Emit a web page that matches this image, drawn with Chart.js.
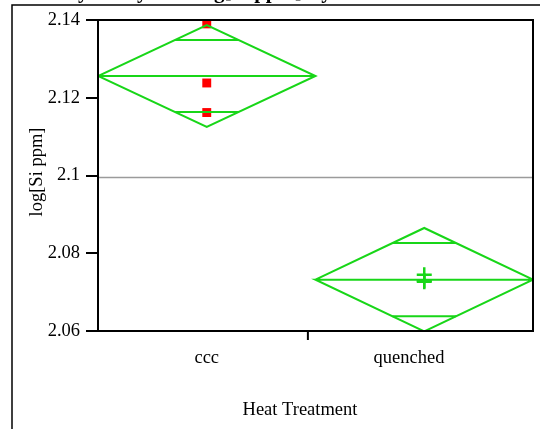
<!DOCTYPE html>
<html>
<head>
<meta charset="utf-8">
<script src="https://cdn.jsdelivr.net/npm/chart.js@4/dist/chart.umd.min.js"></script>
<style>
  html, body { margin: 0; padding: 0; background: #fff; }
</style>
</head>
<body>
<canvas id="chart" width="540" height="429"></canvas>
<script>
'use strict';
// groups and summary values
var groups = ['ccc', 'quenched'];
var groupCenter = [0.5, 1.5];
var groupLabelAt = [0.5, 1.43];
var groupMean = [2.1256, 2.0732];
var groupCI = [0.0131, 0.0133];
var grandMean = 2.0995;
// raw observations
var cccValues = [2.1390, 2.1238, 2.1162];
var quenchedValues = [2.0745, 2.0729, 2.0727];
var yTicks = [2.06, 2.08, 2.1, 2.12, 2.14];

var green = 'rgb(24, 214, 24)';
var serif = '"Liberation Serif", "Times New Roman", serif';

function line(points, color, width){
  return {
    type: 'line',
    data: points,
    borderColor: color,
    borderWidth: width,
    pointRadius: 0,
    fill: false,
    tension: 0
  };
}

var datasets = [];
// grand mean
datasets.push(line([{x: 0, y: grandMean}, {x: 2, y: grandMean}], '#9b9b9b', 1.5));

// means diamonds with overlap marks
for (var i = 0; i < groups.length; i++){
  var c = groupCenter[i], m = groupMean[i], ci = groupCI[i];
  var ov = ci * Math.SQRT1_2;
  var half = 0.5 * (1 - Math.SQRT1_2);
  datasets.push(line([
    {x: c - 0.5, y: m}, {x: c, y: m + ci}, {x: c + 0.5, y: m},
    {x: c, y: m - ci}, {x: c - 0.5, y: m}, {x: c + 0.5, y: m}
  ], green, 2));
  datasets.push(line([{x: c - half, y: m + ov}, {x: c + half, y: m + ov}], green, 2));
  datasets.push(line([{x: c - half, y: m - ov}, {x: c + half, y: m - ov}], green, 2));
}

datasets.push({
  type: 'scatter',
  data: cccValues.map(function(v){ return {x: groupCenter[0], y: v}; }),
  pointStyle: 'rect',
  pointRadius: 6.3,
  backgroundColor: 'rgb(255, 0, 0)',
  borderColor: 'rgb(255, 0, 0)',
  borderWidth: 0
});
datasets.push({
  type: 'scatter',
  data: quenchedValues.map(function(v){ return {x: groupCenter[1], y: v}; }),
  pointStyle: 'cross',
  pointRadius: 7.5,
  borderColor: green,
  borderWidth: 2.5
});

// frame, title, axis titles and the group separator tick
var decorations = {
  id: 'decorations',
  afterDatasetsDraw: function(chart){
    var ctx = chart.ctx, a = chart.chartArea;
    var xs = chart.scales.x;
    ctx.save();
    ctx.strokeStyle = '#000';
    ctx.lineWidth = 2;
    ctx.strokeRect(a.left, a.top, a.right - a.left, a.bottom - a.top);

    var sep = xs.getPixelForValue((groupLabelAt[0] + groupLabelAt[1]) / 2);
    ctx.beginPath();
    ctx.moveTo(sep, a.bottom);
    ctx.lineTo(sep, a.bottom + 9);
    ctx.stroke();

    ctx.lineWidth = 1.5;
    ctx.beginPath();
    ctx.moveTo(540, 5);
    ctx.lineTo(12, 5);
    ctx.lineTo(12, 429);
    ctx.stroke();

    ctx.fillStyle = '#000';
    ctx.textBaseline = 'alphabetic';
    ctx.textAlign = 'left';
    ctx.font = 'bold 21px ' + serif;
    ctx.fillText('Oneway Analysis of log[Si ppm] By Heat Treatment', 15, -2);

    ctx.font = '18.5px ' + serif;
    ctx.textAlign = 'center';
    ctx.textBaseline = 'middle';
    ctx.fillText('Heat Treatment', 300, 410);

    ctx.translate(37, 172);
    ctx.rotate(-Math.PI / 2);
    ctx.fillText('log[Si ppm]', 0, 0);
    ctx.restore();
  }
};

new Chart(document.getElementById('chart').getContext('2d'), {
  type: 'scatter',
  data: { datasets: datasets },
  options: {
    responsive: false,
    animation: false,
    devicePixelRatio: 1,
    layout: { autoPadding: false, padding: { top: 20, right: 7, left: 0, bottom: 0 } },
    plugins: { legend: { display: false }, tooltip: { enabled: false } },
    scales: {
      x: {
        type: 'linear',
        min: 0,
        max: 2,
        afterFit: function(scale){
          scale.height = 98;
          scale.paddingLeft = 0;
          scale.paddingRight = 0;
        },
        afterBuildTicks: function(scale){
          scale.ticks = groupLabelAt.map(function(v){ return {value: v}; });
        },
        ticks: {
          padding: 16,
          color: '#000',
          font: { family: serif, size: 18.5 },
          callback: function(v, idx){ return groups[idx]; }
        },
        grid: { display: false, drawTicks: false },
        border: { display: false }
      },
      y: {
        min: 2.06,
        max: 2.14,
        afterFit: function(scale){ scale.width = 98; },
        afterBuildTicks: function(scale){
          scale.ticks = yTicks.map(function(v){ return {value: v}; });
        },
        ticks: {
          padding: 6,
          color: '#000',
          font: { family: serif, size: 18.5 },
          callback: function(v){ return String(Math.round(v * 100) / 100); }
        },
        grid: { drawOnChartArea: false, drawTicks: true, tickLength: 12, color: '#000', lineWidth: 2 },
        border: { display: false }
      }
    }
  },
  plugins: [decorations]
});
</script>
</body>
</html>
